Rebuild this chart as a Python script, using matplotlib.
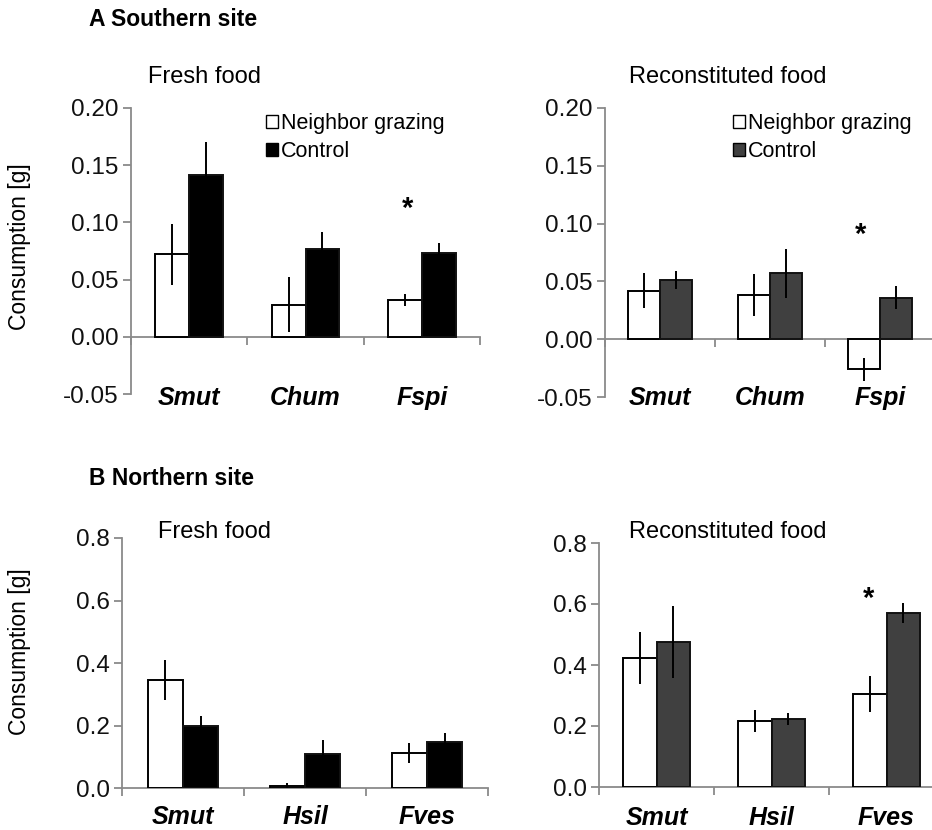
import matplotlib
matplotlib.use("Agg")
import matplotlib.pyplot as plt
from matplotlib.patches import Patch
import matplotlib.transforms as mtransforms

plt.rcParams["font.family"] = ["Liberation Sans", "DejaVu Sans"]

# data
species_a = ["Smut", "Chum", "Fspi"]
species_b = ["Smut", "Hsil", "Fves"]

a_fresh_ng = [0.072, 0.028, 0.032]
a_fresh_ng_err = [0.027, 0.024, 0.005]
a_fresh_ctrl = [0.141, 0.077, 0.073]
a_fresh_ctrl_err = [0.029, 0.015, 0.009]

a_recon_ng = [0.042, 0.038, -0.026]
a_recon_ng_err = [0.015, 0.018, 0.010]
a_recon_ctrl = [0.051, 0.057, 0.036]
a_recon_ctrl_err = [0.008, 0.021, 0.010]

b_fresh_ng = [0.346, 0.005, 0.112]
b_fresh_ng_err = [0.064, 0.012, 0.032]
b_fresh_ctrl = [0.200, 0.109, 0.147]
b_fresh_ctrl_err = [0.030, 0.045, 0.029]

b_recon_ng = [0.423, 0.216, 0.305]
b_recon_ng_err = [0.084, 0.036, 0.060]
b_recon_ctrl = [0.475, 0.222, 0.571]
b_recon_ctrl_err = [0.118, 0.020, 0.033]

W, H = 932, 830
fig = plt.figure(figsize=(W / 100, H / 100), dpi=100)


def px_axes(x0, y0, x1, y1):
    return fig.add_axes([x0 / W, 1 - y1 / H, (x1 - x0) / W, (y1 - y0) / H])


SPINE = "#8a8a8a"
BW = 0.29


def draw_panel(ax, labels, ng, ng_err, ctrl, ctrl_err, ctrl_color, ylim, yticks, fmt,
               label_offset):
    x = range(len(labels))
    xl = [i - BW / 2 for i in x]
    xr = [i + BW / 2 for i in x]
    ax.bar(xl, ng, BW, color="white", edgecolor="black", linewidth=1.4, zorder=2)
    ax.bar(xr, ctrl, BW, color=ctrl_color, edgecolor="#111111", linewidth=1.4, zorder=2)
    ax.errorbar(xl, ng, yerr=ng_err, fmt="none", ecolor="black", elinewidth=1.4, capsize=0, zorder=3)
    ax.errorbar(xr, ctrl, yerr=ctrl_err, fmt="none", ecolor="black", elinewidth=1.4, capsize=0, zorder=3)
    ax.set_xlim(-0.5, len(labels) - 0.5)
    ax.set_ylim(*ylim)
    ax.set_yticks(yticks)
    ax.set_yticklabels([fmt.format(v) for v in yticks])
    ax.spines["top"].set_visible(False)
    ax.spines["right"].set_visible(False)
    ax.spines["bottom"].set_position(("data", 0))
    for s in ("left", "bottom"):
        ax.spines[s].set_color(SPINE)
        ax.spines[s].set_linewidth(1.3)
        ax.spines[s].set_zorder(1)
    ax.set_xticks([])
    ax.set_xticks([-0.5, 0.5, 1.5, 2.5], minor=True)
    ax.tick_params(axis="x", which="minor", direction="out", length=6, width=1.3, color=SPINE)
    ax.tick_params(axis="y", direction="out", length=6, width=1.3, color=SPINE,
                   labelsize=17.5, pad=3, labelcolor="#111111")
    trans = mtransforms.blended_transform_factory(ax.transData, ax.transAxes)
    for i, lab in enumerate(labels):
        ax.annotate(lab, xy=(i, 0), xycoords=trans, xytext=(0, label_offset),
                    textcoords="offset points", ha="center", va="center",
                    fontsize=18, fontweight="bold", fontstyle="italic")
    ax.patch.set_alpha(0)


ax1 = px_axes(131, 108, 480, 394)
draw_panel(ax1, species_a, a_fresh_ng, a_fresh_ng_err, a_fresh_ctrl, a_fresh_ctrl_err,
           "black", (-0.05, 0.20), [-0.05, 0.0, 0.05, 0.10, 0.15, 0.20], "{:.2f}", -3)

ax2 = px_axes(605, 108, 935, 397)
draw_panel(ax2, species_a, a_recon_ng, a_recon_ng_err, a_recon_ctrl, a_recon_ctrl_err,
           "#404040", (-0.05, 0.20), [-0.05, 0.0, 0.05, 0.10, 0.15, 0.20], "{:.2f}", -1)

ax3 = px_axes(122, 538, 488, 788)
draw_panel(ax3, species_b, b_fresh_ng, b_fresh_ng_err, b_fresh_ctrl, b_fresh_ctrl_err,
           "black", (0, 0.8), [0.0, 0.2, 0.4, 0.6, 0.8], "{:.1f}", -21)

ax4 = px_axes(599, 543, 944, 787)
draw_panel(ax4, species_b, b_recon_ng, b_recon_ng_err, b_recon_ctrl, b_recon_ctrl_err,
           "#404040", (0, 0.8), [0.0, 0.2, 0.4, 0.6, 0.8], "{:.1f}", -22)

# significance stars
ax1.text(2 - 0.12, 0.112, "*", ha="center", va="center", fontsize=21, fontweight="bold")
ax2.text(2 - 0.18, 0.090, "*", ha="center", va="center", fontsize=21, fontweight="bold")
ax4.text(2 - 0.16, 0.615, "*", ha="center", va="center", fontsize=21, fontweight="bold")

# legends
for ax, col, (lx, ly) in ((ax1, "black", (266, 113)), (ax2, "#404040", (733, 113))):
    handles = [Patch(facecolor="white", edgecolor="black", linewidth=1.0, label="Neighbor grazing"),
               Patch(facecolor=col, edgecolor="black", linewidth=1.0, label="Control")]
    ax.legend(handles=handles, loc="upper left", bbox_to_anchor=(lx / W, 1 - ly / H),
              bbox_transform=fig.transFigure, frameon=False, fontsize=15.5,
              handlelength=0.55, handleheight=0.55, handletextpad=0.15,
              labelspacing=0.32, borderpad=0, borderaxespad=0)

# headings and panel titles
fig.text(89 / W, 1 - 20 / H, "A Southern site", fontsize=16.5, fontweight="bold", va="center")
fig.text(89 / W, 1 - 478 / H, "B Northern site", fontsize=16.5, fontweight="bold", va="center")
fig.text(205 / W, 1 - 77 / H, "Fresh food", fontsize=17, ha="center", va="center")
fig.text(728 / W, 1 - 77 / H, "Reconstituted food", fontsize=17, ha="center", va="center")
fig.text(214 / W, 1 - 532 / H, "Fresh food", fontsize=17, ha="center", va="center")
fig.text(728 / W, 1 - 532 / H, "Reconstituted food", fontsize=17, ha="center", va="center")
fig.text(20 / W, 1 - 247 / H, "Consumption [g]", fontsize=16.5, rotation=90, ha="center", va="center")
fig.text(20 / W, 1 - 652 / H, "Consumption [g]", fontsize=16.5, rotation=90, ha="center", va="center")

fig.savefig("out.png", dpi=100, facecolor="white")
